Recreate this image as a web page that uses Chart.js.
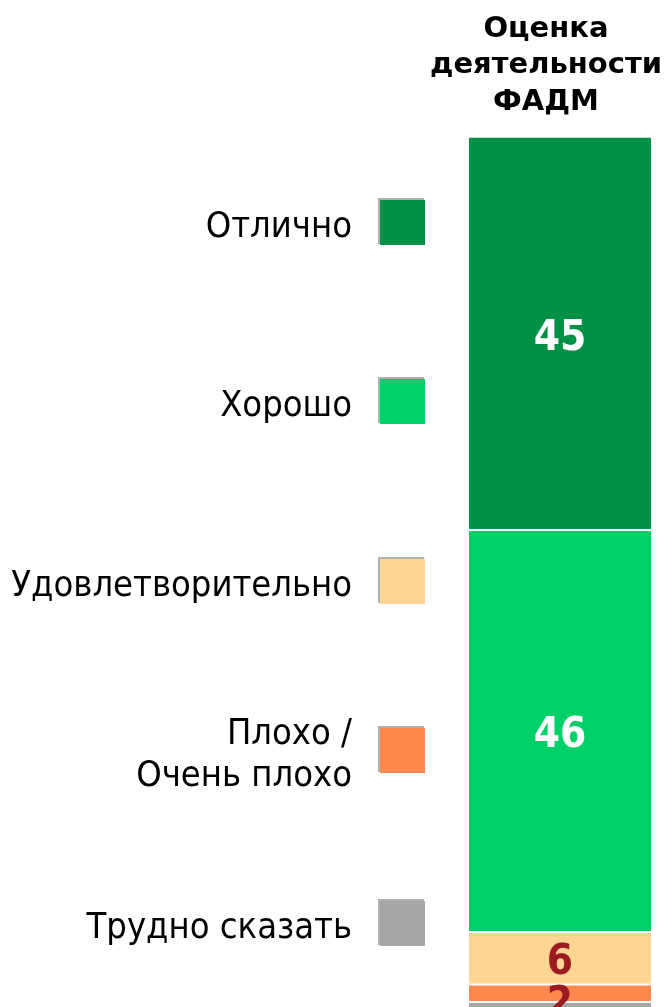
<!DOCTYPE html>
<html>
<head>
<meta charset="utf-8">
<script src="https://cdn.jsdelivr.net/npm/chart.js@4.4.1/dist/chart.umd.min.js"></script>
<style>
  html, body { margin: 0; padding: 0; background: #fff; overflow: hidden; }
  #wrap { width: 669px; height: 1020px; position: relative; }
</style>
</head>
<body>
<div id="wrap"><canvas id="ratingChart"></canvas></div>
<script>
// Данные (снизу вверх в стеке)
const categories = ['Оценка деятельности ФАДМ'];
const seriesLabels = ['Трудно сказать', 'Плохо / Очень плохо', 'Удовлетворительно', 'Хорошо', 'Отлично'];
const seriesValues = [1, 2, 6, 46, 45];
const seriesColors = ['#a6a6a6', '#ff884d', '#fbd591', '#00d068', '#009147'];
const labelColors = [null, '#9b1b20', '#9b1b20', '#ffffff', '#ffffff'];
const titleLines = ['Оценка', 'деятельности', 'ФАДМ'];

const FONT = '"DejaVu Sans", Verdana, sans-serif';
const COND_FONT = '"DejaVu Sans Condensed", "DejaVu Sans", sans-serif';
const legendY = [922, 749, 580, 400, 221];

// Подписи значений внутри сегментов
const valueLabels = {
    id: 'valueLabels',
    afterDatasetsDraw(chart) {
        const ctx = chart.ctx;
        ctx.save();
        ctx.font = 'bold 42px ' + COND_FONT;
        ctx.textAlign = 'center';
        ctx.textBaseline = 'middle';
        chart.data.datasets.forEach((ds, i) => {
            if (!labelColors[i]) return;
            chart.getDatasetMeta(i).data.forEach((bar, j) => {
                const p = bar.getProps(['x', 'y', 'base'], true);
                const h = Math.abs(p.base - p.y);
                const mid = (p.y + p.base) / 2 + (h < 30 ? 13 : 6);
                ctx.fillStyle = labelColors[i];
                ctx.fillText(ds.data[j], p.x, mid);
            });
        });
        ctx.restore();
    }
};

// Заголовок и легенда слева
const sideLegend = {
    id: 'sideLegend',
    afterDraw(chart) {
        const ctx = chart.ctx;
        ctx.save();
        ctx.fillStyle = '#000';
        ctx.textAlign = 'center';
        ctx.textBaseline = 'middle';
        ctx.font = 'bold 29px ' + FONT;
        titleLines.forEach((t, i) => ctx.fillText(t, 546, 29 + i * 36.5));

        ctx.font = '36px ' + COND_FONT;
        ctx.textAlign = 'right';
        chart.data.datasets.forEach((ds, i) => {
            const cy = legendY[i];
            const parts = ds.label.split(' / ');
            const lines = parts.length > 1 ? [parts[0] + ' /', parts[1]] : parts;
            lines.forEach((ln, li) => {
                ctx.fillStyle = '#000';
                ctx.fillText(ln, 352, cy + (li - (lines.length - 1) / 2) * 42 + 7);
            });
            ctx.fillStyle = '#b0b0b0';
            ctx.fillRect(378, cy - 23, 46, 46);
            ctx.fillStyle = ds.backgroundColor;
            ctx.fillRect(380, cy - 21, 45, 45);
        });
        ctx.restore();
    }
};

const ctx = document.getElementById('ratingChart').getContext('2d');
new Chart(ctx, {
    type: 'bar',
    data: {
        labels: categories,
        datasets: seriesLabels.map((label, i) => ({
            label: label,
            data: [seriesValues[i]],
            backgroundColor: seriesColors[i],
            borderColor: '#ffffff',
            borderWidth: { top: 2 },
            borderSkipped: false,
            barPercentage: 1,
            categoryPercentage: 1
        }))
    },
    options: {
        responsive: true,
        maintainAspectRatio: false,
        animation: false,
        layout: { padding: { left: 469, right: 18, top: 136, bottom: 10 } },
        scales: {
            x: { stacked: true, display: false },
            y: { stacked: true, display: false, min: 0, max: 100 }
        },
        plugins: {
            legend: { display: false },
            tooltip: { enabled: false }
        }
    },
    plugins: [valueLabels, sideLegend]
});
</script>
</body>
</html>
